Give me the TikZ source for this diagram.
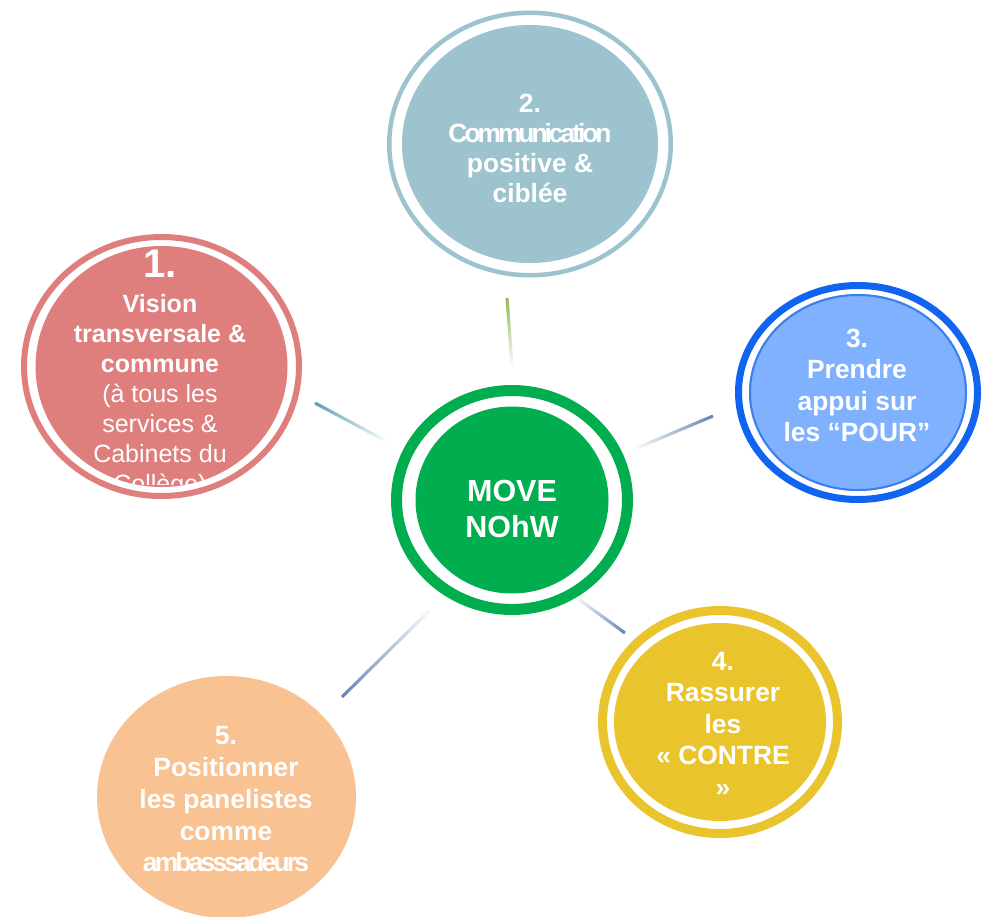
\documentclass[tikz,border=0pt]{standalone}
\usepackage{fontspec}
\usepackage{graphicx}
\setmainfont{Liberation Sans}
\usetikzlibrary{calc,shapes.geometric}
\definecolor{cone}{HTML}{DE7F7E}
\definecolor{ctwo}{HTML}{9CC3CE}
\definecolor{cthreefill}{HTML}{80B1FF}
\definecolor{cthreering}{HTML}{1064F0}
\definecolor{cthreeedge}{HTML}{3A7FF0}
\definecolor{cmid}{HTML}{00AD4F}
\definecolor{cfour}{HTML}{E9C42C}
\definecolor{cfive}{HTML}{F9C293}
\definecolor{lteal}{HTML}{5AA2B4}
\definecolor{lblue}{HTML}{6686B4}
\definecolor{lolive}{HTML}{94B857}
\newcommand{\fadeline}[3]{%
  \foreach \i in {0,...,39}{%
    \pgfmathsetmacro{\pc}{100-2.4*\i}%
    \pgfmathsetmacro{\ea}{\i/40}%
    \pgfmathsetmacro{\eb}{min((\i+1.3)/40,1)}%
    \draw[line width=3pt, #1!\pc!white] ($(#2)!\ea!(#3)$) -- ($(#2)!\eb!(#3)$);
  }}
\newcommand{\tightword}[2]{{\addfontfeature{LetterSpace=#1}#2}}
\tikzset{
  disc/.style={ellipse, inner sep=0pt, draw=none},
  txt/.style={text=white, align=center, inner sep=0pt},
}
\begin{document}
\begin{tikzpicture}[x=1pt,y=-1pt]
\useasboundingbox (0,0) rectangle (988,916);
\clip (0,0) rectangle (988,916);
\fill[white] (0,0) rectangle (988,916);

% connector end points
\coordinate (l1a) at (315,403); \coordinate (l1b) at (386,441);
\coordinate (l2a) at (507,298); \coordinate (l2b) at (512,366);
\coordinate (l3a) at (713,416); \coordinate (l3b) at (637,448);
\coordinate (l4a) at (625,633); \coordinate (l4b) at (577,598);
\coordinate (l5a) at (342,697); \coordinate (l5b) at (430,610);

\fadeline{lteal}{l1a}{l1b}
\fadeline{lolive}{l2a}{l2b}
\fadeline{lblue}{l3a}{l3b}
\fadeline{lblue}{l4a}{l4b}
\fadeline{lblue}{l5a}{l5b}

% centre
\node[disc, fill=cmid, minimum width=193pt, minimum height=187pt] (mid) at (512,500) {};
\draw[cmid, line width=11pt] (mid.center) ellipse [x radius=115.5, y radius=109.5];
\node[txt, font=\bfseries\fontsize{30.5}{35.5}\selectfont] (tmid) at (512,512.4) {\strut MOVE\\\strut NOhW};

% circle 1
\node[disc, fill=cone, minimum width=252pt, minimum height=241pt] (c1) at (161.5,366.5) {};
\draw[cone, line width=6pt] (c1.center) ellipse [x radius=137.5, y radius=129.5];
\node[txt, anchor=base, font=\bfseries\fontsize{40}{48}\selectfont] (t1n) at (160,277) {1.};
\begin{scope}
\clip (0,0) rectangle (988,484);
\node[txt, font=\fontsize{25}{30}\selectfont] (t1) at (160,396)
  {\strut\textbf{Vision}\\\strut\textbf{transversale \&}\\\strut\textbf{commune}\\
   \strut(à tous les\\\strut services \&\\\strut Cabinets du\\\strut Collège)};
\end{scope}

% circle 2
\node[disc, fill=ctwo, minimum width=256pt, minimum height=238pt] (c2) at (530,144) {};
\draw[ctwo, line width=4.5pt] (c2.center) ellipse [x radius=140.75, y radius=131.25];
\node[txt, font=\bfseries\fontsize{26.4}{30.3}\selectfont] (t2) at (530,151.4)
  {\strut 2.\\\strut\tightword{-11.5}{Communication}\\\strut positive \&\\\strut ciblée};

% circle 3
\node[disc, fill=cthreefill, minimum width=218pt, minimum height=197pt] (c3) at (858,392.5) {};
\draw[cthreeedge, line width=2pt] (c3.center) ellipse [x radius=108, y radius=97.5];
\draw[cthreering, line width=7pt] (c3.center) ellipse [x radius=119.5, y radius=107];
\node[txt, font=\bfseries\fontsize{26.4}{31.6}\selectfont] (t3) at (857,388.2)
  {\strut 3.\\\strut Prendre\\\strut appui sur\\\strut les “POUR”};

% circle 4
\node[disc, fill=cfour, minimum width=212pt, minimum height=198pt] (c4) at (720,722) {};
\draw[cfour, line width=9pt] (c4.center) ellipse [x radius=117.5, y radius=111.5];
\node[txt, font=\bfseries\fontsize{26.4}{31.6}\selectfont] (t4) at (723,726.9)
  {\strut 4.\\\strut Rassurer\\\strut les\\\strut « CONTRE\\\strut »};

% circle 5
\node[disc, fill=cfive, minimum width=259pt, minimum height=242pt] (c5) at (226.5,797) {};
\node[txt, font=\bfseries\fontsize{26.4}{31.75}\selectfont] (t5) at (226,802.1)
  {\strut 5.\\\strut Positionner\\\strut les panelistes\\\strut comme\\\strut\tightword{-10.5}{ambasssadeurs}};
\end{tikzpicture}
\end{document}
